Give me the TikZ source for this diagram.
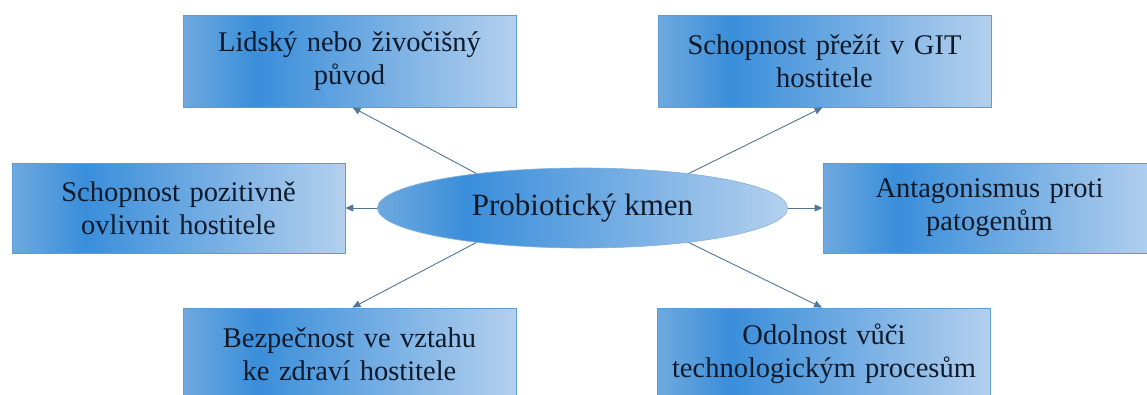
\documentclass[tikz,border=0pt]{standalone}
\usepackage{fontspec}
\setmainfont{Liberation Serif}
\usetikzlibrary{shapes.geometric,arrows.meta}
\definecolor{cA}{HTML}{6EA9DF}
\definecolor{cB}{HTML}{3A8EDA}
\definecolor{cC}{HTML}{B4D0EE}
\definecolor{bordc}{HTML}{5F9CD6}
\definecolor{arrc}{HTML}{50769A}
\definecolor{txtc}{HTML}{0E1A2A}
\pgfdeclarehorizontalshading{boxshade}{100bp}{color(0bp)=(cA); color(25bp)=(cA); color(36bp)=(cB); color(75bp)=(cC); color(100bp)=(cC)}
\tikzset{
  infobox/.style={rectangle, draw=bordc, line width=0.8pt, shading=boxshade,
    minimum width=333pt, minimum height=92pt, inner sep=0pt, text width=320pt,
    align=center, text=txtc, font=\fontsize{28.5}{33}\selectfont},
  centre/.style={ellipse, draw=bordc!80, line width=0.6pt, shading=boxshade,
    minimum width=410pt, minimum height=80pt, inner sep=0pt, text=txtc,
    font=\fontsize{31}{36}\selectfont},
  arr/.style={draw=arrc, line width=0.9pt, -{Triangle[length=8pt,width=7pt]}}
}
\begin{document}
\begin{tikzpicture}[x=1pt,y=-1pt]
\useasboundingbox (0,0) rectangle (1147,394);
\clip (0,0) rectangle (1147,394);
\node[infobox] (tl) at (349.5,61) {Lidský nebo živočišný\\původ};
\node[infobox] (tr) at (824.5,61) {Schopnost přežít v GIT\\hostitele};
\node[infobox, minimum height=90pt] (ml) at (178.5,208) {Schopnost pozitivně\\ovlivnit hostitele};
\node[infobox, minimum height=90pt] (mr) at (989.5,208) {Antagonismus proti\\patogenům};
\node[infobox] (bl) at (349.5,354) {Bezpečnost ve vztahu\\ke zdraví hostitele};
\node[infobox] (br) at (824,354) {Odolnost vůči\\technologickým procesům};
\node[centre] (e) at (582.5,208) {Probiotický kmen};
\draw[arr] (e.162) -- ([xshift=3pt]tl.south);
\draw[arr] (e.18) -- ([xshift=-2pt]tr.south);
\draw[arr] (e.west) -- (ml.east);
\draw[arr] (e.east) -- (mr.west);
\draw[arr] (e.198) -- ([xshift=3pt]bl.north);
\draw[arr] (e.342) -- ([xshift=-2pt]br.north);
\end{tikzpicture}
\end{document}
